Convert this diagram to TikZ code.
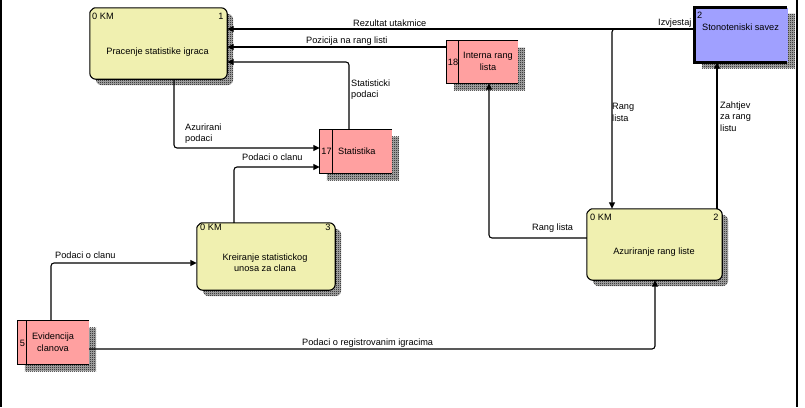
\documentclass[tikz,border=0pt]{standalone}
\usepackage{fontspec}
\setmainfont{Liberation Sans}
\usetikzlibrary{arrows.meta,patterns}
\pgfdeclarepatternformonly{checker}{\pgfpointorigin}{\pgfqpoint{2pt}{2pt}}{\pgfqpoint{2pt}{2pt}}{%
  \pgfpathrectangle{\pgfpointorigin}{\pgfqpoint{1pt}{1pt}}%
  \pgfpathrectangle{\pgfqpoint{1pt}{1pt}}{\pgfqpoint{1pt}{1pt}}%
  \pgfusepath{fill}}
\definecolor{procfill}{HTML}{F0F0B0}
\definecolor{storefill}{HTML}{FFA0A0}
\definecolor{extfill}{HTML}{A0A0FF}
\newcommand\lblfont{\fontsize{9.2}{11.5}\selectfont}
\tikzset{shade hatch/.style={preaction={fill=black!30}, pattern=checker}}
\newcommand\procshape[1]{%
  \fill[shade hatch, rounded corners=6pt] ([shift={(6pt,-6pt)}]#1.north west) rectangle ([shift={(6pt,-6pt)}]#1.south east);
  \filldraw[fill=procfill, line width=1.1pt] (#1.west) [rounded corners=1pt] -- ([yshift=-4pt]#1.north west) -- ([xshift=4pt]#1.north west) [rounded corners=6pt] -- (#1.north east) -- (#1.south east) -- (#1.south west) -- cycle;}
\newcommand\storeshape[2]{%
  \fill[shade hatch] ([shift={(7pt,-7pt)}]#1.north west) rectangle ([shift={(7pt,-7pt)}]#1.south east);
  \fill[storefill] (#1.north west) rectangle (#1.south east);
  \draw[line width=1.1pt] (#1.north east) -- (#1.north west) -- (#1.south west) -- (#1.south east);
  \draw[line width=1.1pt] ([xshift=#2]#1.north west) -- ([xshift=#2]#1.south west);}
\begin{document}
\begin{tikzpicture}[x=1pt,y=-1pt,
  area/.style={draw=none, fill=none, inner sep=0pt, rectangle},
  txt/.style={font=\lblfont, inner sep=0pt},
  flow/.style={draw, line width=1.1pt, rounded corners=3pt, -{Triangle[length=6.5pt,width=6pt]}},
  frame/.style={line width=1.5pt}]
\useasboundingbox (0,0) rectangle (805,407);
\draw[frame] (0.8,0) -- (0.8,407);
\draw[frame] (797,0) -- (797,407);

% areas
\node[area, minimum width=137pt, minimum height=71pt] (p1) at (158.5,43.5) {};
\node[area, minimum width=135pt, minimum height=71pt] (p2) at (654.5,244.5) {};
\node[area, minimum width=138pt, minimum height=67pt] (p3) at (266,256.5) {};
\node[area, minimum width=93pt, minimum height=54pt] (ext) at (741.5,35) {};
\node[area, minimum width=72pt, minimum height=43pt] (s17) at (356,151.5) {};
\node[area, minimum width=71pt, minimum height=42pt] (s18) at (482.5,62) {};
\node[area, minimum width=71pt, minimum height=43pt] (s5) at (53.5,342.5) {};

\procshape{p1}
\procshape{p2}
\procshape{p3}
\storeshape{s17}{13pt}
\storeshape{s18}{12pt}
\storeshape{s5}{9pt}
% external entity
\fill[shade hatch] ([shift={(7pt,-6pt)}]ext.north west) rectangle ([shift={(7pt,-6pt)}]ext.south east);
\fill[extfill] (ext.north west) rectangle (ext.south east);
\draw[line width=3pt] ([xshift=-1pt]ext.north east) -- (ext.north west) -- (ext.south west) -- ([xshift=-1pt]ext.south east);

% texts in shapes
\node[txt, anchor=west] (p1k) at (92,16) {0 KM};
\node[txt] (p1n) at (221,16) {1};
\node[txt] (p1t) at (157.5,52) {Pracenje statistike igraca};
\node[txt, anchor=west] (p2k) at (590,217) {0 KM};
\node[txt] (p2n) at (716,217) {2};
\node[txt] (p2t) at (654,252) {Azuriranje rang liste};
\node[txt, anchor=west] (p3k) at (200,227) {0 KM};
\node[txt] (p3n) at (328,227) {3};
\node[txt, align=center] (p3t) at (265,262.5) {Kreiranje statistickog\\unosa za clana};
\node[txt, anchor=west] (extn) at (697,15) {2};
\node[txt, anchor=west] (extt) at (702,27) {Stonoteniski savez};
\node[txt] (s17n) at (326.5,151) {17};
\node[txt, anchor=west] (s17t) at (338,151) {Statistika};
\node[txt] (s18n) at (453,62) {18};
\node[txt, align=center] (s18t) at (488,61.5) {Interna rang\\lista};
\node[txt] (s5n) at (22.5,343) {5};
\node[txt, align=center] (s5t) at (53,342) {Evidencija\\clanova};

% bend points
\coordinate (c29) at (0,29);
\coordinate (c47) at (0,47);
\coordinate (j1) at (612,29);
\coordinate (b3) at (349,62);
\coordinate (b4) at (174,148);
\coordinate (b5) at (234,167);
\coordinate (b6) at (51,263);
\coordinate (b7) at (655,349);
\coordinate (b8) at (489,238);
\coordinate (b9) at (717,0);

% connectors
\draw[flow] (ext.west |- c29) -- (p1.east |- c29);
\draw[flow] (ext.west |- c29) -- (j1) -- (p2.north -| j1);
\draw[flow] (s18.west |- c47) -- (p1.east |- c47);
\draw[flow] (s17.north -| b3) -- (b3) -- (p1.east |- b3);
\draw[flow] (p1.south -| b4) -- (b4) -- (s17.west |- b4);
\draw[flow] (p3.north -| b5) -- (b5) -- (s17.west |- b5);
\draw[flow] (s5.north -| b6) -- (b6) -- (p3.west |- b6);
\draw[flow] (s5.east |- b7) -- (b7) -- (p2.south -| b7);
\draw[flow] (p2.west |- b8) -- (b8) -- (s18.south -| b8);
\draw[flow] (p2.north -| b9) -- (ext.south -| b9);

% connector labels
\node[txt, anchor=west] (l1) at (353,23) {Rezultat utakmice};
\node[txt, anchor=west] (l2) at (658,23) {Izvjestaj};
\node[txt, anchor=west] (l3) at (306,41) {Pozicija na rang listi};
\node[txt, anchor=west, align=left] (l4) at (351,89.5) {Statisticki\\podaci};
\node[txt, anchor=west, align=left] (l5) at (185,133.5) {Azurirani\\podaci};
\node[txt, anchor=west] (l6) at (242,157) {Podaci o clanu};
\node[txt, anchor=west] (l7) at (55,255) {Podaci o clanu};
\node[txt, anchor=west] (l8) at (302,343) {Podaci o registrovanim igracima};
\node[txt, anchor=west] (l9) at (532,228) {Rang lista};
\node[txt, anchor=west, align=left] (l10) at (612,112.5) {Rang\\lista};
\node[txt, anchor=west, align=left] (l11) at (720,116.5) {Zahtjev\\za rang\\listu};
\end{tikzpicture}
\end{document}
